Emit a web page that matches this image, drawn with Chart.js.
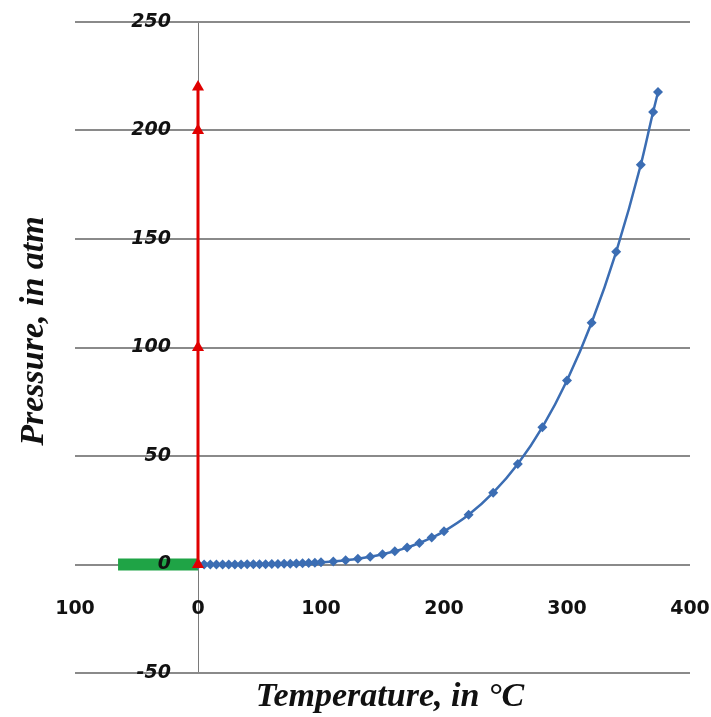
<!DOCTYPE html>
<html>
<head>
<meta charset="utf-8">
<script src="https://cdn.jsdelivr.net/npm/chart.js@4.4.1/dist/chart.umd.min.js"></script>
<style>
  html, body { margin: 0; padding: 0; background: #fff; }
  #wrap { width: 711px; height: 717px; }
</style>
</head>
<body>
<div id="wrap"><canvas id="phase-chart" width="711" height="717"></canvas></div>
<script>
// vapour pressure curve of water (liquid / gas boundary)
const vaporTemp = [0, 5, 10, 15, 20, 25, 30, 35, 40, 45, 50, 55, 60, 65, 70, 75, 80, 85, 90, 95, 100,
  110, 120, 130, 140, 150, 160, 170, 180, 190, 200,
  220, 240, 260, 280, 300, 320, 340, 360, 370, 374];
const vaporPressure = [0.006, 0.009, 0.012, 0.017, 0.023, 0.031, 0.042, 0.055, 0.073, 0.094, 0.12, 0.16, 0.2, 0.25, 0.31, 0.38, 0.47, 0.57, 0.69, 0.83, 1.0,
  1.4, 2.0, 2.7, 3.6, 4.7, 6.1, 7.8, 9.9, 12.4, 15.3,
  22.9, 33.1, 46.3, 63.3, 84.8, 111.4, 144.1, 184.2, 208.5, 217.7];

// melting line (solid / liquid), drawn at 0 °C
const meltTemp = [0, 0, 0, 0];
const meltPressure = [0, 100, 200, 220];

// green segment along zero pressure
const iceTemp = [-65, 0];
const icePressure = [0, 0];

const xMin = -100, xMax = 400, xStep = 100;
const yMin = -50, yMax = 250, yStep = 50;

function toPoints(xs, ys) {
  return xs.map((x, i) => ({ x: x, y: ys[i] }));
}

// axes sit inside the plot, so don't let them push the plot area around
function noPadding(scale) {
  scale.paddingLeft = 0;
  scale.paddingRight = 0;
  scale.paddingTop = 0;
  scale.paddingBottom = 0;
}

const axisTitles = {
  id: 'axisTitles',
  afterDraw(chart) {
    const ctx = chart.ctx;
    ctx.save();
    ctx.fillStyle = '#111';
    ctx.font = "bold italic 34px 'Liberation Serif'";
    ctx.textAlign = 'center';
    ctx.textBaseline = 'middle';
    ctx.fillText('Temperature, in °C', 390, 697);
    ctx.translate(34, 331);
    ctx.rotate(-Math.PI / 2);
    ctx.fillText('Pressure, in atm', 0, 0);
    ctx.restore();
  }
};

const ctx = document.getElementById('phase-chart').getContext('2d');
new Chart(ctx, {
  type: 'scatter',
  data: {
    datasets: [
      {
        label: 'Melting',
        data: toPoints(meltTemp, meltPressure),
        showLine: true,
        borderColor: '#e00000',
        backgroundColor: '#e00000',
        borderWidth: 3,
        pointStyle: 'triangle',
        pointRadius: 7,
        pointBorderWidth: 0
      },
      {
        label: 'Vapour pressure',
        data: toPoints(vaporTemp, vaporPressure),
        showLine: true,
        cubicInterpolationMode: 'monotone',
        borderColor: '#3b6db3',
        backgroundColor: '#3b6db3',
        borderWidth: 2.5,
        pointStyle: 'rectRot',
        pointRadius: 5,
        pointBorderWidth: 0
      },
      {
        label: 'Ice',
        data: toPoints(iceTemp, icePressure),
        showLine: true,
        borderColor: '#1fa446',
        borderWidth: 12,
        borderCapStyle: 'butt',
        pointRadius: 0
      }
    ]
  },
  options: {
    responsive: false,
    animation: false,
    layout: { padding: { left: 75, right: 21, top: 22, bottom: 44 } },
    plugins: {
      legend: { display: false },
      tooltip: { enabled: false }
    },
    scales: {
      x: {
        type: 'linear',
        min: xMin,
        max: xMax,
        position: { y: 0 },
        afterFit: noPadding,
        grid: {
          drawTicks: false,
          lineWidth: 1,
          color: c => (c.tick && c.tick.value === 0 ? '#7a7a7a' : 'rgba(0,0,0,0)')
        },
        border: { display: false },
        ticks: {
          stepSize: xStep,
          padding: 33,
          color: '#111',
          font: { family: 'DejaVu Sans', size: 19, weight: 'bold' },
          callback: v => String(Math.abs(v))
        }
      },
      y: {
        type: 'linear',
        min: yMin,
        max: yMax,
        position: { x: -22 },
        afterFit: noPadding,
        grid: { color: '#8a8a8a', lineWidth: 2, drawTicks: false },
        border: { display: false },
        ticks: {
          stepSize: yStep,
          z: 1,
          color: '#111',
          font: { family: 'DejaVu Sans', size: 19, weight: 'bold', style: 'italic' }
        }
      }
    }
  },
  plugins: [axisTitles]
});
</script>
</body>
</html>
